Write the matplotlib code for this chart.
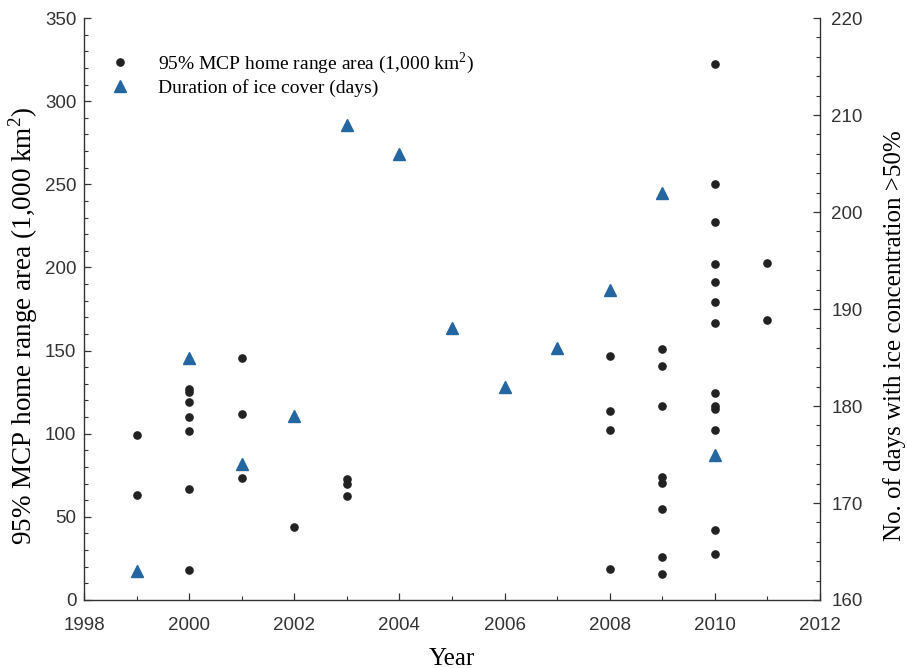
import matplotlib
matplotlib.use("Agg")
import matplotlib.pyplot as plt
from matplotlib.ticker import MultipleLocator

# 95% MCP home range area (1,000 km2), one entry per bear-year
area_years = [1999, 1999,
              2000, 2000, 2000, 2000, 2000, 2000, 2000,
              2001, 2001, 2001,
              2002,
              2003, 2003, 2003,
              2008, 2008, 2008, 2008,
              2009, 2009, 2009, 2009, 2009, 2009, 2009, 2009,
              2010, 2010, 2010, 2010, 2010, 2010, 2010, 2010, 2010, 2010, 2010, 2010, 2010,
              2011, 2011]
area_values = [99, 63,
               127, 125, 119, 110, 101.5, 67, 18,
               145.5, 112, 73.5,
               44,
               72.5, 70, 62.5,
               147, 113.5, 102, 18.5,
               151, 140.5, 116.5, 74, 70.5, 54.5, 26, 15.5,
               322.5, 250, 227.5, 202, 191, 179.5, 166.5, 124.5, 116.5, 115, 102.5, 42, 27.5,
               202.5, 168.5]

# duration of ice cover (days with ice concentration > 50%)
ice_years = [1999, 2000, 2001, 2002, 2003, 2004, 2005, 2006, 2007, 2008, 2009, 2010]
ice_days = [163, 185, 174, 179, 209, 206, 188, 182, 186, 192, 202, 175]

plt.rcParams["mathtext.fontset"] = "custom"
plt.rcParams["mathtext.rm"] = "Liberation Serif"

serif = ["Liberation Serif", "DejaVu Serif"]
sans = ["Liberation Sans", "DejaVu Sans"]
spine_col = "#333333"

fig = plt.figure(figsize=(9.07, 6.68), dpi=100)
ax = fig.add_axes([0.0926, 0.1018, 0.8115, 0.8712])
ax2 = ax.twinx()

ax.plot(area_years, area_values, "o", color="#222222", markersize=5.2,
        label="95% MCP home range area (1,000 km$^2$)", zorder=3)
ax2.plot(ice_years, ice_days, "^", color="#2466a0", markersize=9.2,
         label="Duration of ice cover (days)", zorder=3)

ax.set_xlim(1998, 2012)
ax.set_ylim(0, 350)
ax2.set_ylim(160, 220)

ax.xaxis.set_major_locator(MultipleLocator(2))
ax.xaxis.set_minor_locator(MultipleLocator(1))
ax.yaxis.set_major_locator(MultipleLocator(50))
ax.yaxis.set_minor_locator(MultipleLocator(10))
ax2.yaxis.set_major_locator(MultipleLocator(10))
ax2.yaxis.set_minor_locator(MultipleLocator(2))

for a in (ax, ax2):
    a.tick_params(which="major", direction="in", length=5, width=0.9, color=spine_col,
                  labelsize=13.5, labelcolor="#333333")
    a.tick_params(which="minor", direction="in", length=3, width=0.8, color=spine_col)
    for lab in a.get_xticklabels() + a.get_yticklabels():
        lab.set_family(sans)
    for s in a.spines.values():
        s.set_color(spine_col)
        s.set_linewidth(1.0)
ax.tick_params(axis="x", which="major", pad=12)
ax.tick_params(axis="y", which="major", pad=5.5)
ax2.tick_params(axis="y", which="major", pad=8)

ax.spines["top"].set_visible(False)
ax2.spines["top"].set_visible(False)
ax2.spines["left"].set_visible(False)
ax2.spines["bottom"].set_visible(False)
ax.spines["right"].set_visible(False)

ax.set_xlabel("Year", fontsize=18, family=serif, labelpad=10)
ax.set_ylabel("95% MCP home range area (1,000 km$^2$)", fontsize=19.5, family=serif, labelpad=3.4)
ax2.set_ylabel("No. of days with ice concentration >50%", fontsize=18, family=serif, labelpad=15)
ax.yaxis.label.set_y(0.471)
ax2.yaxis.label.set_y(0.454)

h1, l1 = ax.get_legend_handles_labels()
h2, l2 = ax2.get_legend_handles_labels()
leg = ax.legend(h1 + h2, l1 + l2, loc="upper left", bbox_to_anchor=(0.005, 0.975),
                frameon=False, prop={"family": serif, "size": 14},
                handletextpad=1.2, labelspacing=0.15, handlelength=1.5)

fig.savefig("out.png", dpi=100)
